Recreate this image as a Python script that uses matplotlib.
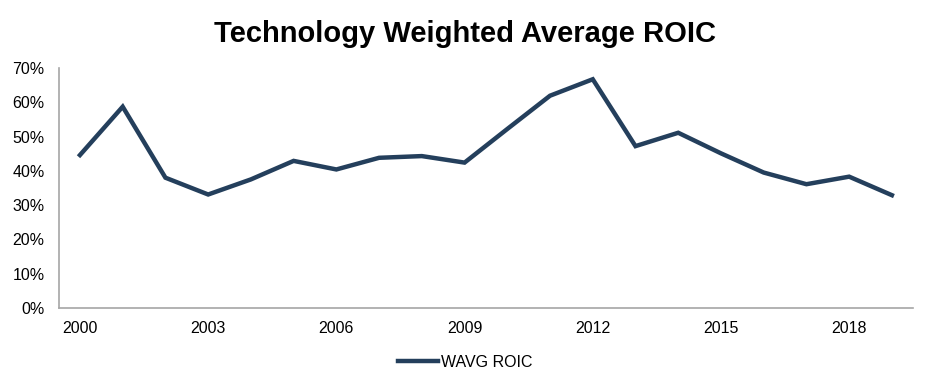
import matplotlib
matplotlib.use("Agg")
import matplotlib.pyplot as plt
from matplotlib.ticker import FuncFormatter, MultipleLocator

years = list(range(2000, 2020))
roic = [44.6, 58.7, 38.0, 33.1, 37.5, 42.9, 40.4, 43.8, 44.3, 42.4,
        52.2, 61.9, 66.7, 47.2, 51.1, 45.1, 39.5, 36.1, 38.3, 32.9]
tick_years = [2000, 2003, 2006, 2009, 2012, 2015, 2018]

plt.rcParams['font.family'] = ['Liberation Sans', 'DejaVu Sans']
color = '#243f5c'

fig = plt.figure(figsize=(9.3, 3.86), dpi=100)
ax = fig.add_axes([0.063, 0.202, 0.919, 0.622])
x = list(range(len(years)))
ax.plot(x, roic, color=color, linewidth=3.2, solid_joinstyle='miter', label='WAVG ROIC')
ax.set_xlim(-0.5, len(years) - 0.5)
ax.set_ylim(0, 70)
ax.yaxis.set_major_locator(MultipleLocator(10))
ax.yaxis.set_major_formatter(FuncFormatter(lambda v, p: f"{v:.0f}%"))
ax.set_xticks([years.index(y) for y in tick_years])
ax.set_xticklabels([str(y) for y in tick_years])
for s in ['top', 'right']:
    ax.spines[s].set_visible(False)
for s in ['left', 'bottom']:
    ax.spines[s].set_color('#a6a6a6')
    ax.spines[s].set_linewidth(1.2)
ax.tick_params(axis='both', length=0, labelsize=11.5, colors='black')
ax.tick_params(axis='y', pad=10)
ax.tick_params(axis='x', pad=9)
fig.suptitle('Technology Weighted Average ROIC', fontsize=21, fontweight='bold', y=0.947)
fig.legend(loc='center', bbox_to_anchor=(0.5, 0.062), frameon=False, fontsize=11.5,
           handlelength=2.5, handletextpad=0.2)
fig.savefig('out.png', dpi=100)
